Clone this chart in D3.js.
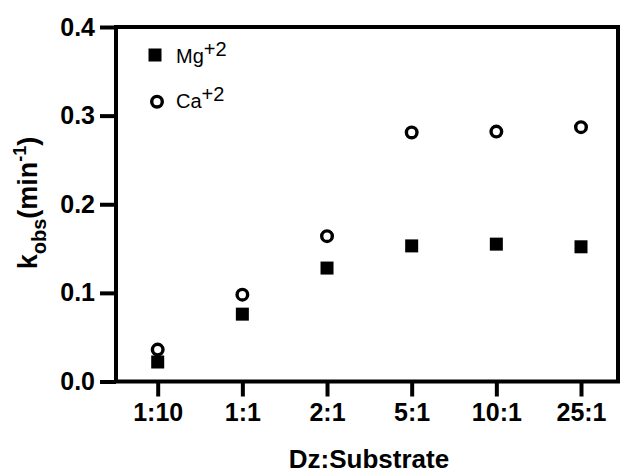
<!DOCTYPE html>
<html>
<head>
<meta charset="utf-8">
<script src="https://cdn.jsdelivr.net/npm/d3@7"></script>
<style>
    body { margin: 0; background: #fff; }
    text { font-family: "Liberation Sans", Arial, Helvetica, sans-serif; fill: #000; }
</style>
</head>
<body>
<div id="chart"></div>
<script>
const ratios = ['1:10', '1:1', '2:1', '5:1', '10:1', '25:1'];
const mgValues = [0.022, 0.076, 0.128, 0.153, 0.155, 0.152];
const caValues = [0.036, 0.098, 0.164, 0.281, 0.282, 0.287];
const yTicks = [0.0, 0.1, 0.2, 0.3, 0.4];

const width = 622;
const height = 473;
const plotLeft = 116, plotRight = 618, plotTop = 27, plotBottom = 381.5;

const svg = d3
    .select('#chart')
    .append('svg')
    .attr('width', width)
    .attr('height', height);

const x = d3.scalePoint().domain(ratios).range([157.7, 581]);
const y = d3.scaleLinear().domain([0, 0.4]).range([plotBottom, plotTop]);

// frame
svg.append('rect')
    .attr('x', plotLeft)
    .attr('y', plotTop)
    .attr('width', plotRight - plotLeft)
    .attr('height', plotBottom - plotTop)
    .attr('fill', 'none')
    .attr('stroke', '#000')
    .attr('stroke-width', 4);

const yAxis = svg.append('g')
    .attr('transform', 'translate(' + plotLeft + ',0)')
    .call(d3.axisLeft(y).tickValues(yTicks).tickFormat(d3.format('.1f')).tickSize(16).tickPadding(5));

const xAxis = svg.append('g')
    .attr('transform', 'translate(0,' + plotBottom + ')')
    .call(d3.axisBottom(x).tickSize(15).tickPadding(7));

[yAxis, xAxis].forEach(function (g) {
    g.select('.domain').remove();
    g.selectAll('line').attr('stroke', '#000').attr('stroke-width', 4);
    g.selectAll('text')
        .attr('fill', '#000')
        .style('font-size', '25px')
        .style('font-weight', 'bold')
        .style('font-family', '"Liberation Sans", Arial, sans-serif');
});

// data
svg.append('g').selectAll('rect')
    .data(mgValues)
    .join('rect')
    .attr('x', function (d, i) { return x(ratios[i]) - 6.5; })
    .attr('y', function (d) { return y(d) - 6.5; })
    .attr('width', 13)
    .attr('height', 13)
    .attr('fill', '#000');

svg.append('g').selectAll('circle')
    .data(caValues)
    .join('circle')
    .attr('cx', function (d, i) { return x(ratios[i]); })
    .attr('cy', function (d) { return y(d); })
    .attr('r', 5.3)
    .attr('fill', 'none')
    .attr('stroke', '#000')
    .attr('stroke-width', 3.4);

// legend
svg.append('rect')
    .attr('x', 148.5).attr('y', 48.5)
    .attr('width', 13).attr('height', 13)
    .attr('fill', '#000');
svg.append('circle')
    .attr('cx', 157).attr('cy', 101.7).attr('r', 5.3)
    .attr('fill', 'none').attr('stroke', '#000').attr('stroke-width', 3.4);

function legendLabel(label, yBase) {
    const t = svg.append('text')
        .attr('x', 176)
        .attr('y', yBase)
        .style('font-size', '20px');
    t.append('tspan').text(label);
    t.append('tspan').attr('dy', -7.5).style('font-size', '20px').text('+2');
}
legendLabel('Mg', 63);
legendLabel('Ca', 108);

// axis titles
svg.append('text')
    .attr('x', (plotLeft + plotRight) / 2 + 2)
    .attr('y', 468)
    .attr('text-anchor', 'middle')
    .style('font-size', '26px')
    .style('font-weight', 'bold')
    .text('Dz:Substrate');

const yTitle = svg.append('text')
    .attr('transform', 'translate(37,' + 203 + ') rotate(-90)')
    .attr('text-anchor', 'middle')
    .style('font-size', '27px')
    .style('font-weight', 'bold');
yTitle.append('tspan').text('k');
yTitle.append('tspan').attr('dy', 9).style('font-size', '20px').text('obs');
yTitle.append('tspan').attr('dy', -9).text('(min');
yTitle.append('tspan').attr('dy', -11).style('font-size', '18px').text('-1');
yTitle.append('tspan').attr('dy', 11).text(')');
</script>
</body>
</html>
